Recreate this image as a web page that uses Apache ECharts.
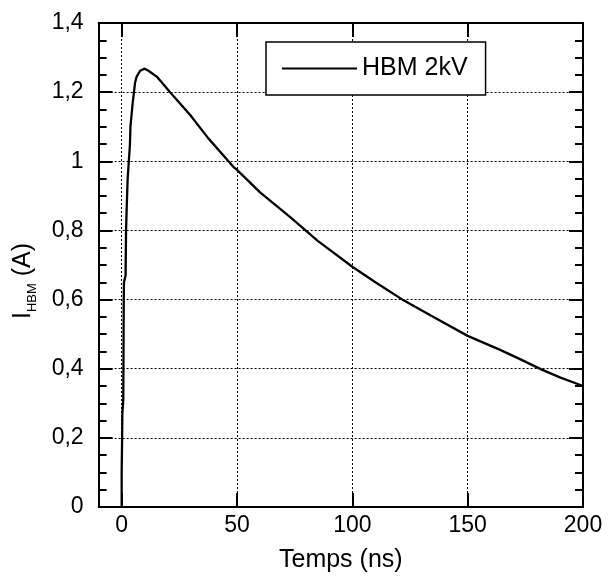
<!DOCTYPE html>
<html>
<head>
<meta charset="utf-8">
<script src="https://cdn.jsdelivr.net/npm/echarts@6/dist/echarts.min.js"></script>
<style>
html,body{margin:0;padding:0;background:#fff;}
#chart{width:611px;height:578px;}
</style>
</head>
<body>
<div id="chart"></div>
<script>
// Time (ns)
const timeNs = [0, 0, 0.2, 0.3, 0.7, 0.8, 0.9, 1.0, 1.7, 1.9, 2.2, 2.6, 3.2, 3.6, 3.8, 4.8, 5.8, 6.5, 8, 10, 11.6, 15.2, 21, 29.7, 37.5, 48.4, 50, 60, 73.2, 85, 100, 110, 122.4, 135, 150, 163.6, 172, 181.9, 190, 200];
// Current I_HBM (A)
const currentA = [0, 0.1, 0.2, 0.27, 0.31, 0.45, 0.6, 0.65, 0.67, 0.8, 0.87, 0.95, 1.01, 1.05, 1.10, 1.17, 1.227, 1.245, 1.262, 1.268, 1.262, 1.245, 1.20, 1.134, 1.067, 0.984, 0.975, 0.91, 0.838, 0.77, 0.695, 0.65, 0.597, 0.55, 0.495, 0.456, 0.43, 0.398, 0.375, 0.35];
const xTicks = [0, 50, 100, 150, 200];
const seriesName = 'HBM 2kV';

const FONT = '"Liberation Sans", Arial, sans-serif';
const data = timeNs.map((t, i) => [t, currentA[i]]);

const chart = echarts.init(document.getElementById('chart'), null, {renderer: 'canvas'});

const xBase = {
  type: 'value', min: -10, max: 200,
  axisLine: {show: true, onZero: false, lineStyle: {color: '#000', width: 2}},
  axisTick: {show: true, inside: true, length: 14, customValues: xTicks, lineStyle: {color: '#000', width: 2}},
  splitLine: {show: true, lineStyle: {color: '#000', width: 1, type: [2, 2]}},
  minorTick: {show: false}
};
const yBase = {
  type: 'value', min: 0, max: 1.4, interval: 0.2,
  axisLine: {show: true, onZero: false, lineStyle: {color: '#000', width: 2}},
  axisTick: {show: true, inside: true, length: 14, lineStyle: {color: '#000', width: 2}},
  minorTick: {show: true, splitNumber: 4, length: 8, lineStyle: {color: '#000', width: 2}},
  splitLine: {show: true, lineStyle: {color: '#000', width: 1, type: [2, 2]}}
};

chart.setOption({
  backgroundColor: '#fff',
  animation: false,
  grid: {left: 98.6, right: 28, top: 23, bottom: 71, containLabel: false},
  xAxis: [
    Object.assign({}, xBase, {
      position: 'bottom',
      name: 'Temps (ns)', nameLocation: 'middle', nameGap: 41,
      nameTextStyle: {fontFamily: FONT, fontSize: 25, color: '#000'},
      axisLabel: {show: true, customValues: xTicks, margin: 7, fontFamily: FONT, fontSize: 23, color: '#000'}
    }),
    Object.assign({}, xBase, {position: 'top', axisLabel: {show: false, customValues: xTicks}, splitLine: {show: false}})
  ],
  yAxis: [
    Object.assign({}, yBase, {
      position: 'left',
      name: '{a|I}{b|HBM}{a| (A)}', nameLocation: 'middle', nameGap: 60, nameRotate: 90,
      nameTextStyle: {
        fontFamily: FONT, color: '#000', padding: [0, 32, 0, 0],
        rich: {
          a: {fontFamily: FONT, fontSize: 25, color: '#000', lineHeight: 30, verticalAlign: 'middle'},
          b: {fontFamily: FONT, fontSize: 13, color: '#000', lineHeight: 30, verticalAlign: 'bottom'}
        }
      },
      axisLabel: {
        show: true, margin: 15, fontFamily: FONT, fontSize: 23, color: '#000',
        formatter: v => String(Math.round(v * 10) / 10).replace('.', ',')
      }
    }),
    Object.assign({}, yBase, {position: 'right', axisLabel: {show: false}, splitLine: {show: false}})
  ],
  legend: {
    show: true, left: 266, top: 42,
    data: [seriesName],
    backgroundColor: '#fff', borderColor: '#000', borderWidth: 1.5, borderRadius: 0,
    padding: [14, 18, 14, 16],
    itemWidth: 75, itemHeight: 14, itemGap: 7,
    textStyle: {fontFamily: FONT, fontSize: 25, color: '#000'},
    icon: 'path://M0,6 L75,6 L75,8 L0,8 Z'
  },
  series: [{
    name: seriesName, type: 'line', xAxisIndex: 0, yAxisIndex: 0,
    data: data, symbol: 'none', smooth: false,
    lineStyle: {color: '#000', width: 2.3},
    itemStyle: {color: '#000'}
  }]
});
</script>
</body>
</html>
